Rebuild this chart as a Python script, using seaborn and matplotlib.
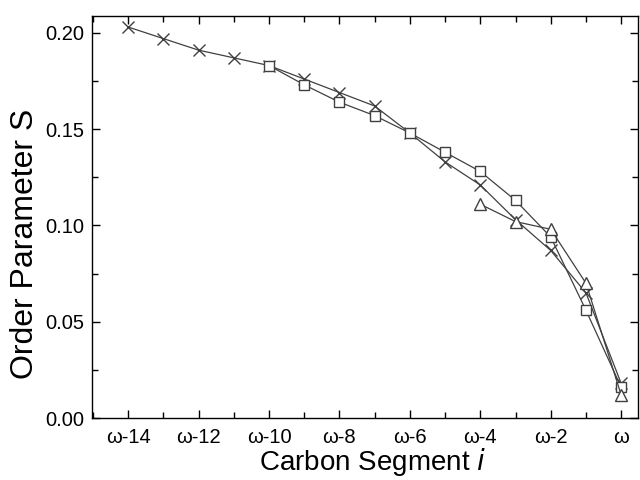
import matplotlib
matplotlib.use("Agg")
import matplotlib.pyplot as plt
import seaborn as sns
from matplotlib.ticker import MultipleLocator, FormatStrFormatter

# carbon positions relative to the chain end (omega = 0)
pos_cross = [-14, -13, -12, -11, -10, -9, -8, -7, -6, -5, -4, -3, -2, -1, 0]
s_cross = [0.203, 0.197, 0.191, 0.187, 0.183, 0.176, 0.169, 0.162, 0.148,
           0.133, 0.121, 0.103, 0.087, 0.065, 0.018]

pos_square = [-10, -9, -8, -7, -6, -5, -4, -3, -2, -1, 0]
s_square = [0.183, 0.173, 0.164, 0.157, 0.148, 0.138, 0.128, 0.113, 0.094,
            0.056, 0.016]

pos_tri = [-4, -3, -2, -1, 0]
s_tri = [0.111, 0.102, 0.098, 0.070, 0.012]

tick_pos = [-14, -12, -10, -8, -6, -4, -2, 0]
tick_lab = ["ω-14", "ω-12", "ω-10", "ω-8", "ω-6", "ω-4", "ω-2", "ω"]

sns.set_style("ticks")
plt.rcParams['font.family'] = ['Liberation Sans', 'DejaVu Sans']
plt.rcParams['text.color'] = 'black'
plt.rcParams['axes.labelcolor'] = 'black'
plt.rcParams['xtick.color'] = 'black'
plt.rcParams['ytick.color'] = 'black'

fig, ax = plt.subplots(figsize=(6.4, 4.8), dpi=100)

col = "#404040"
sns.lineplot(x=pos_cross, y=s_cross, marker="x", markersize=8,
             markeredgecolor=col, markeredgewidth=1.0,
             color=col, linewidth=0.9, ax=ax)
sns.lineplot(x=pos_square, y=s_square, marker="s", markersize=7.5,
             markerfacecolor="white", markeredgecolor=col, markeredgewidth=1.0,
             color=col, linewidth=0.9, ax=ax)
sns.lineplot(x=pos_tri, y=s_tri, marker="^", markersize=9,
             markerfacecolor="white", markeredgecolor=col, markeredgewidth=1.0,
             color=col, linewidth=0.9, ax=ax)

ax.set_xlim(-15.02, 0.48)
ax.set_ylim(0, 0.2088)
ax.set_xticks(tick_pos)
ax.set_xticklabels(tick_lab)
ax.xaxis.set_minor_locator(MultipleLocator(1))
ax.yaxis.set_major_locator(MultipleLocator(0.05))
ax.yaxis.set_minor_locator(MultipleLocator(0.025))
ax.yaxis.set_major_formatter(FormatStrFormatter("%.2f"))

ax.tick_params(which="both", direction="in", top=True, right=True,
               labelsize=14.5, width=1)
ax.tick_params(axis="x", which="major", pad=7)
ax.tick_params(axis="y", which="major", pad=6)
ax.tick_params(which="major", length=6)
ax.tick_params(which="minor", length=4)
for sp in ax.spines.values():
    sp.set_visible(True)
    sp.set_linewidth(1.0)
    sp.set_color("black")

ax.set_xlabel("Carbon Segment $\\it{i}$", fontsize=20)
ax.set_ylabel("Order Parameter S", fontsize=23)
ax.xaxis.set_label_coords(0.514, -0.07)
ax.yaxis.set_label_coords(-0.095, 0.433)

plt.subplots_adjust(left=0.144, right=0.997, top=0.967, bottom=0.129)
plt.savefig("out.png", dpi=100)
